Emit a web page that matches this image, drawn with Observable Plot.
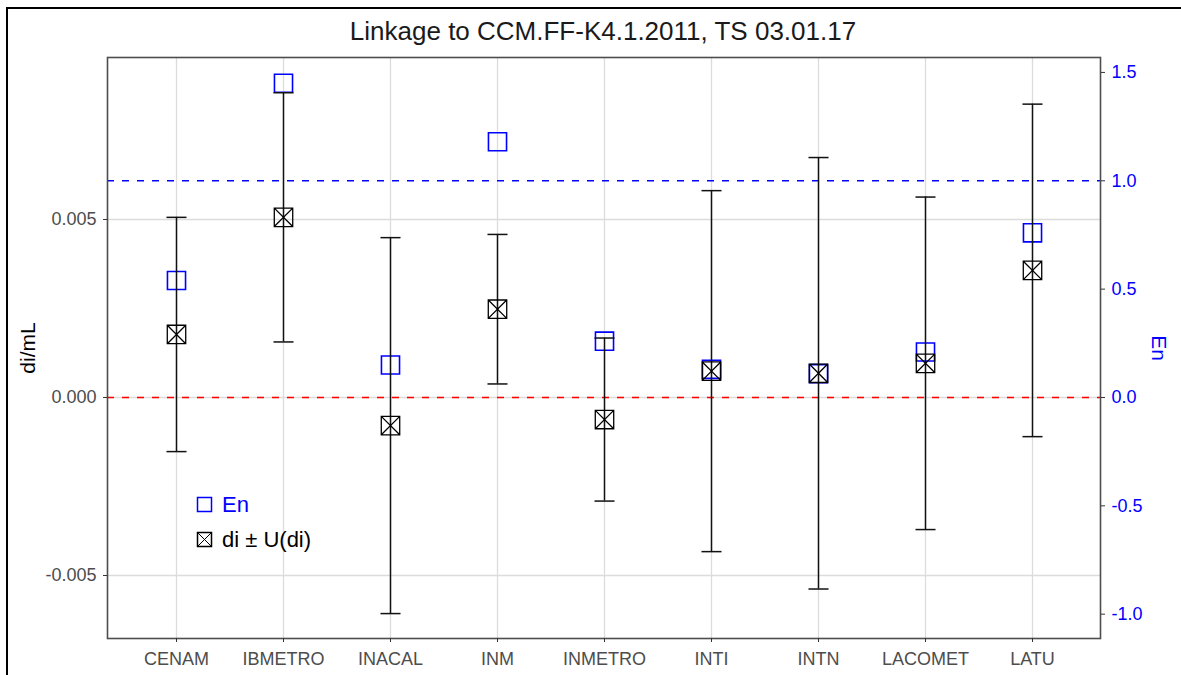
<!DOCTYPE html>
<html>
<head>
<meta charset="utf-8">
<script src="https://cdn.jsdelivr.net/npm/d3@7"></script>
<script src="https://cdn.jsdelivr.net/npm/@observablehq/plot@0.6"></script>
<style>
  html, body { margin: 0; padding: 0; background: #fff; }
  #wrap { position: relative; width: 1181px; height: 675px; overflow: hidden; font-family: "Liberation Sans", Arial, sans-serif; }
  #border { position: absolute; left: 6px; top: 7px; width: 1200px; height: 700px; border-left: 2px solid #000; border-top: 2px solid #000; pointer-events: none; }
  #title { height: 38px; padding-top: 12px; line-height: 38px; text-align: center; padding-left: 25px; font-size: 26px; color: #1a1a1a; }
  #legend { position: absolute; left: 196px; top: 487px; font-size: 22px; }
  #legend .row { display: flex; align-items: center; height: 35px; gap: 9px; }
</style>
</head>
<body>
<div id="wrap">
  <div id="title">Linkage to CCM.FF-K4.1.2011, TS 03.01.17</div>
  <div id="chart"></div>
  <div id="legend">
    <div class="row">
      <svg width="17" height="17"><rect x="1.5" y="1.5" width="14" height="14" fill="none" stroke="blue" stroke-width="1.5"/></svg>
      <span style="color:blue">En</span>
    </div>
    <div class="row">
      <svg width="17" height="17"><rect x="1.5" y="1.5" width="14" height="14" fill="none" stroke="#000" stroke-width="1.5"/><path d="M1.5,1.5L15.5,15.5M15.5,1.5L1.5,15.5" stroke="#000" stroke-width="1"/></svg>
      <span style="color:#000">di ± U(di)</span>
    </div>
  </div>
  <div id="border"></div>
</div>
<script>
// ---- data ----
const cats = ["CENAM", "IBMETRO", "INACAL", "INM", "INMETRO", "INTI", "INTN", "LACOMET", "LATU"];
const di   = [0.00177, 0.00506, -0.00079, 0.00248, -0.00062, 0.00074, 0.00068, 0.00096, 0.00357];
const U    = [0.00329, 0.00350, 0.00528, 0.00210, 0.00229, 0.00507, 0.00606, 0.00467, 0.00467];
const En   = [0.54, 1.45, 0.15, 1.18, 0.26, 0.13, 0.11, 0.21, 0.76];
const leftTicks  = [-0.005, 0, 0.005];
const rightTicks = [-1, -0.5, 0, 0.5, 1, 1.5];
const enLimit = 1;
const diRef = 0;

// secondary-axis factor: di units per En unit
const K = 0.006087;

const rows = cats.map((lab, i) => ({lab, di: di[i], lo: di[i] - U[i], hi: di[i] + U[i], en: En[i] * K}));

const crossSquare = {
  draw(ctx, size) {
    const s = Math.sqrt(size) / 2;
    ctx.moveTo(-s, -s); ctx.lineTo(s, -s); ctx.lineTo(s, s); ctx.lineTo(-s, s); ctx.closePath();
    ctx.moveTo(-s, -s); ctx.lineTo(s, s);
    ctx.moveTo(s, -s); ctx.lineTo(-s, s);
  }
};
const capSymbol = {
  draw(ctx, size) {
    const w = Math.sqrt(size) / 2;
    ctx.moveTo(-w, 0); ctx.lineTo(w, 0);
  }
};

const chart = Plot.plot({
  width: 1181,
  height: 625,
  marginTop: 7,
  marginBottom: 37,
  marginLeft: 107,
  marginRight: 81,
  style: {fontFamily: "'Liberation Sans', Arial, sans-serif", fontSize: "18px", background: "white", overflow: "visible"},
  x: {type: "point", domain: cats, padding: 0.6, label: null},
  y: {domain: [-0.00677, 0.00955], label: null},
  marks: [
    Plot.gridX({stroke: "#dcdcdc", strokeOpacity: 1, strokeWidth: 1.3}),
    Plot.gridY(leftTicks, {stroke: "#dcdcdc", strokeOpacity: 1, strokeWidth: 1.3}),
    Plot.ruleY([diRef], {stroke: "#ff0000", strokeWidth: 1.4, strokeDasharray: "7,8"}),
    Plot.ruleY([enLimit * K], {stroke: "#0000ff", strokeWidth: 1.4, strokeDasharray: "7,8"}),
    Plot.dot(rows, {x: "lab", y: "en", symbol: "square", r: 10.2, stroke: "#0000ff", fill: "none", strokeWidth: 1.6}),
    Plot.ruleX(rows, {x: "lab", y1: "lo", y2: "hi", stroke: "#111", strokeWidth: 1.5}),
    Plot.dot(rows, {x: "lab", y: "lo", symbol: capSymbol, r: 11.3, stroke: "#111", strokeWidth: 1.5}),
    Plot.dot(rows, {x: "lab", y: "hi", symbol: capSymbol, r: 11.3, stroke: "#111", strokeWidth: 1.5}),
    Plot.dot(rows, {x: "lab", y: "di", symbol: crossSquare, r: 10.4, stroke: "#000", fill: "none", strokeWidth: 1.3}),
    Plot.frame({stroke: "#4d4d4d", strokeWidth: 1.6}),
    Plot.axisX({tickSize: 4, tickPadding: 10, fontSize: 18, stroke: "#333", fill: "#4d4d4d", label: null}),
    Plot.axisY(leftTicks, {anchor: "left", tickSize: 4, tickPadding: 7, fontSize: 18, stroke: "#333", fill: "#4d4d4d",
      tickFormat: d => d.toFixed(3), label: null}),
    Plot.axisY(rightTicks.map(v => v * K), {anchor: "right", tickSize: 4, tickPadding: 7, fontSize: 18, stroke: "#333", fill: "#0000ff",
      tickFormat: d => (d / K).toFixed(1), label: null}),
    Plot.text(["di/mL"], {text: d => d, frameAnchor: "left", textAnchor: "middle", dx: -79, rotate: -90, fontSize: 21, fill: "#000"}),
    Plot.text(["En"], {text: d => d, frameAnchor: "right", textAnchor: "middle", dx: 58, rotate: 90, fontSize: 21, fill: "#0000ff"})
  ]
});
document.getElementById("chart").appendChild(chart);
</script>
</body>
</html>
